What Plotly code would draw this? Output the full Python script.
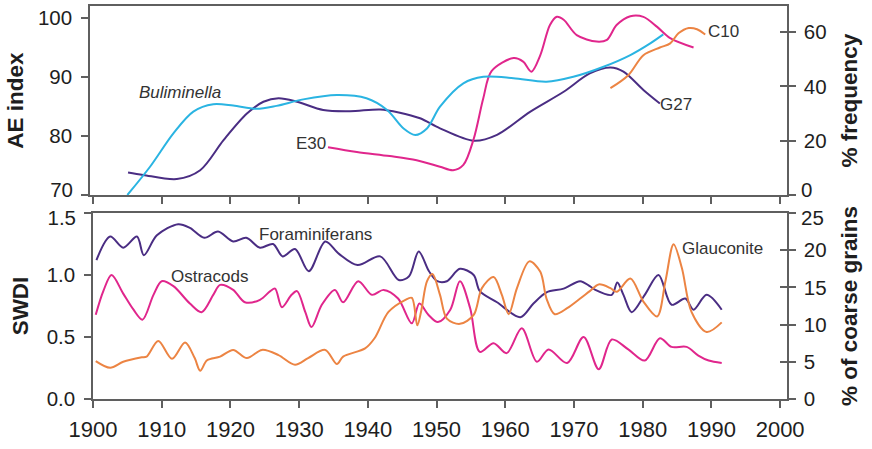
import plotly.graph_objects as go

# ---------------- data ----------------
# Top panel: AE index (left axis) for cores G27, E30, C10; Buliminella % frequency (right axis)
g27_year = [1905.1, 1907.3, 1912.2, 1915.6, 1919.0, 1922.4, 1924.8, 1927.0, 1929.7, 1933.5,
            1937.4, 1941.8, 1944.5, 1947.6, 1950.5, 1955.4, 1958.8, 1963.6, 1968.5, 1972.3,
            1975.3, 1977.2, 1980.1, 1982.5]
g27_ae = [73.8, 73.4, 72.7, 74.2, 79.3, 83.8, 85.8, 86.4, 85.8, 84.4,
          84.2, 84.5, 84.0, 83.0, 81.3, 79.2, 80.2, 84.1, 87.5, 90.6,
          91.6, 90.9, 87.8, 85.5]

e30_year = [1934.2, 1938.4, 1943.2, 1947.1, 1950.5, 1952.4, 1953.9, 1955.4, 1956.8, 1958.0,
            1961.2, 1962.6, 1963.8, 1965.1, 1966.5, 1967.5, 1968.5, 1970.4, 1973.3, 1974.8,
            1976.2, 1978.2, 1980.1, 1982.1, 1984.0, 1987.4]
e30_ae = [78.1, 77.3, 76.6, 75.9, 74.8, 74.2, 75.1, 79.5, 86.4, 91.0,
          93.2, 92.6, 90.9, 93.7, 98.8, 100.2, 99.7, 97.1, 96.0, 96.3,
          98.8, 100.3, 100.2, 98.5, 96.6, 95.0]

c10_year = [1975.3, 1977.9, 1980.1, 1982.5, 1984.0, 1985.2, 1986.7, 1987.9, 1989.1]
c10_ae = [88.1, 90.3, 93.7, 95.0, 95.7, 97.4, 98.3, 98.1, 97.2]

bul_year = [1905.0, 1908.3, 1911.7, 1914.6, 1917.5, 1920.4, 1923.8, 1926.7, 1930.6, 1935.5,
            1939.8, 1942.8, 1945.2, 1946.9, 1948.6, 1950.5, 1953.9, 1956.8, 1961.2, 1966.0,
            1969.9, 1974.3, 1978.2, 1981.1, 1983.0]
bul_pct = [0.0, 10.4, 22.7, 30.7, 33.4, 32.9, 31.7, 32.8, 35.2, 36.8,
           35.6, 31.3, 24.5, 22.1, 24.5, 32.5, 41.1, 43.5, 43.0, 41.7,
           43.5, 47.2, 51.5, 55.8, 59.1]

# Bottom panel: SWDI (left axis) for foraminiferans and ostracods; glauconite % of coarse grains (right axis)
foram_year = [1900.5, 1902.5, 1904.4, 1906.4, 1907.4, 1909.3, 1912.4, 1914.1, 1916.2, 1918.2,
              1920.4, 1922.3, 1924.3, 1926.2, 1927.6, 1929.4, 1931.4, 1933.8, 1935.8, 1938.5,
              1941.8, 1944.5, 1946.0, 1947.4, 1948.9, 1950.1, 1951.5, 1953.4, 1955.4, 1956.3,
              1958.8, 1962.2, 1964.1, 1966.0, 1968.5, 1970.9, 1972.3, 1973.1, 1975.5, 1976.3,
              1977.2, 1978.4, 1980.3, 1982.3, 1984.2, 1986.2, 1987.4, 1989.3, 1991.5]
foram_swdi = [1.12, 1.31, 1.22, 1.31, 1.16, 1.32, 1.41, 1.38, 1.30, 1.35,
              1.27, 1.30, 1.22, 1.25, 1.15, 1.21, 1.03, 1.27, 1.17, 1.08,
              1.15, 0.96, 0.99, 1.19, 1.03, 0.95, 0.95, 1.05, 1.00, 0.87,
              0.78, 0.66, 0.77, 0.86, 0.89, 0.95, 0.91, 0.88, 0.84, 0.94,
              0.84, 0.70, 0.84, 1.00, 0.76, 0.81, 0.72, 0.84, 0.72]

ostra_year = [1900.4, 1901.5, 1902.7, 1904.4, 1905.9, 1907.2, 1908.8, 1910.0, 1911.7, 1914.1,
              1915.8, 1917.5, 1918.5, 1920.4, 1922.1, 1924.3, 1925.8, 1926.5, 1927.5, 1928.9,
              1929.7, 1930.9, 1931.8, 1933.3, 1935.2, 1936.4, 1938.6, 1940.6, 1942.3, 1944.4,
              1946.4, 1947.5, 1948.8, 1950.2, 1952.0, 1953.4, 1954.9, 1956.3, 1958.3, 1960.2,
              1962.4, 1964.6, 1966.3, 1969.0, 1971.4, 1973.6, 1975.5, 1977.9, 1980.3, 1982.5,
              1984.2, 1986.4, 1988.1, 1989.6, 1991.5]
ostra_swdi = [0.68, 0.87, 1.00, 0.85, 0.72, 0.64, 0.84, 0.95, 0.91, 0.77,
              0.70, 0.84, 0.92, 0.88, 0.78, 0.80, 0.87, 0.89, 0.74, 0.84,
              0.87, 0.70, 0.58, 0.76, 0.88, 0.78, 0.95, 0.84, 0.88, 0.81,
              0.61, 0.77, 0.68, 0.62, 0.72, 0.95, 0.73, 0.38, 0.45, 0.37,
              0.57, 0.30, 0.40, 0.29, 0.50, 0.24, 0.48, 0.40, 0.31, 0.49,
              0.42, 0.42, 0.35, 0.31, 0.29]

glauc_year = [1900.4, 1902.5, 1904.4, 1907.1, 1907.8, 1909.5, 1911.5, 1913.4, 1914.8, 1915.6,
              1916.6, 1918.5, 1920.4, 1922.4, 1924.6, 1927.0, 1929.4, 1931.3, 1933.8, 1935.5,
              1936.4, 1939.6, 1941.0, 1943.0, 1945.4, 1946.4, 1947.2, 1947.8, 1948.6, 1949.4,
              1950.5, 1951.5, 1953.4, 1955.4, 1956.6, 1958.3, 1959.5, 1960.5, 1961.7, 1963.5,
              1965.1, 1966.0, 1967.2, 1969.0, 1970.9, 1972.3, 1973.6, 1975.3, 1976.2, 1978.2,
              1980.1, 1982.1, 1983.3, 1984.5, 1985.7, 1987.1, 1989.3, 1991.5]
glauc_pct = [5.1, 4.2, 5.0, 5.6, 5.7, 7.8, 5.4, 7.6, 5.5, 3.8,
             5.2, 5.7, 6.6, 5.5, 6.6, 5.9, 4.6, 5.5, 6.6, 4.7,
             5.7, 6.8, 8.2, 11.7, 13.3, 13.6, 9.9, 12.0, 15.8, 16.8,
             14.0, 10.8, 10.1, 11.3, 14.9, 16.4, 14.0, 11.4, 14.9, 18.5,
             17.1, 13.5, 11.4, 12.2, 13.5, 14.5, 15.4, 14.9, 14.4, 16.2,
             13.1, 11.1, 15.8, 20.8, 17.6, 11.7, 9.0, 10.3]

x_ticks = list(range(1900, 2001, 10))
ae_ticks = [70, 80, 90, 100]
freq_ticks = [0, 20, 40, 60]
swdi_ticks = [0.0, 0.5, 1.0, 1.5]
coarse_ticks = [0, 5, 10, 15, 20, 25]

# ---------------- style ----------------
FONT = "Liberation Sans, Arial, sans-serif"
C_CYAN = "#2ab4e2"
C_PURPLE = "#4a2d83"
C_MAGENTA = "#e0268c"
C_ORANGE = "#ec8443"
FRAME = "#5f5f5f"
TXT = "#1e1e1e"
LBL = "#333333"
LW = 2.0

fig = go.Figure()

def line(x, y, color, xa, ya, name):
    fig.add_trace(go.Scatter(x=x, y=y, mode="lines", name=name, showlegend=False,
                             line=dict(color=color, width=LW, shape="spline", smoothing=0.9),
                             xaxis=xa, yaxis=ya, hoverinfo="x+y+name"))

# top panel
line(bul_year, bul_pct, C_CYAN, "x2", "y4", "Buliminella")
line(g27_year, g27_ae, C_PURPLE, "x2", "y3", "G27")
line(e30_year, e30_ae, C_MAGENTA, "x2", "y3", "E30")
line(c10_year, c10_ae, C_ORANGE, "x2", "y3", "C10")
# bottom panel
line(glauc_year, glauc_pct, C_ORANGE, "x", "y2", "Glauconite")
line(ostra_year, ostra_swdi, C_MAGENTA, "x", "y", "Ostracods")
line(foram_year, foram_swdi, C_PURPLE, "x", "y", "Foraminiferans")
# empty traces so the helper axes (inner ticks, edge labels) are drawn
for xa, ya in [("x2", "y5"), ("x", "y6"), ("x2", "y7"), ("x2", "y8"), ("x", "y9"), ("x", "y10")]:
    fig.add_trace(go.Scatter(x=[], y=[], xaxis=xa, yaxis=ya, showlegend=False))

W, H = 872, 449
ML, MR, MT, MB = 90, 85, 6, 50
plot_w = W - ML - MR
plot_h = H - MT - MB
top_dom = [(399 - 195) / plot_h, 1.0]
bot_dom = [0.0, (399 - 213) / plot_h]

AE_RANGE = [70, 70 + 189 / 5.9]
FREQ_RANGE = [0, 189 / 2.717]
SWDI_RANGE = [0, 1.5]
COARSE_RANGE = [0, 25]

xtickfont = dict(family=FONT, size=22, color=TXT)
ytickfont = dict(family=FONT, size=20.5, color=TXT)
titlefont = dict(family=FONT, size=22.5, color=TXT, weight="bold")

common_axis = dict(showline=True, linecolor=FRAME, linewidth=1.5, showgrid=False, zeroline=False,
                   automargin=False,
                   ticks="outside", ticklen=7, tickwidth=1.5, tickcolor=FRAME)
helper = dict(showline=False, showgrid=False, zeroline=False, automargin=False)

def lbl(vals, fmt, skip):
    return [("" if v == skip else fmt.format(v)) for v in vals]

fig.update_layout(
    template="plotly_white",
    width=W, height=H,
    margin=dict(l=ML, r=MR, t=MT, b=MB, autoexpand=False),
    paper_bgcolor="white", plot_bgcolor="white",
    font=dict(family=FONT, color=TXT),
    xaxis=dict(domain=[3 / plot_w, 1.0], range=[1900, 2001.0], anchor="y", tickvals=x_ticks,
               mirror=True, ticklabelstandoff=3, tickfont=xtickfont, **common_axis),
    xaxis2=dict(domain=[0.0, 1.0], range=[1900 - 3 / 6.87, 2001.0], anchor="y3", tickvals=x_ticks,
                mirror=True, showticklabels=False, **common_axis),
    # bottom-left SWDI
    yaxis=dict(domain=bot_dom, range=SWDI_RANGE, anchor="x", tickvals=swdi_ticks,
               ticktext=lbl(swdi_ticks, "{:.1f}", 1.5),
               title=dict(text="SWDI", font=titlefont, standoff=12), ticklabelstandoff=5,
               tickfont=ytickfont, **common_axis),
    # bottom-right % coarse grains
    yaxis2=dict(domain=bot_dom, range=COARSE_RANGE, anchor="x", overlaying="y", side="right",
                tickvals=coarse_ticks, ticktext=lbl(coarse_ticks, "{}", 25), tickfont=ytickfont,
                title=dict(text="% of coarse grains", font=titlefont, standoff=16), ticklabelstandoff=4,
                **common_axis),
    # top-left AE index
    yaxis3=dict(domain=top_dom, range=AE_RANGE, anchor="x2", tickvals=ae_ticks,
                ticktext=lbl(ae_ticks, "{}", 70),
                title=dict(text="AE index", font=titlefont, standoff=8), ticklabelstandoff=5,
                tickfont=ytickfont, **common_axis),
    # top-right % frequency
    yaxis4=dict(domain=top_dom, range=FREQ_RANGE, anchor="x2", overlaying="y3", side="right",
                tickvals=freq_ticks, ticktext=lbl(freq_ticks, "{}", 0), tickfont=ytickfont,
                title=dict(text="% frequency", font=titlefont, standoff=16), ticklabelstandoff=4,
                **common_axis),
    # inner halves of the crossing right-hand ticks
    yaxis5=dict(domain=top_dom, range=FREQ_RANGE, anchor="x2", overlaying="y3", side="right",
                tickvals=freq_ticks, showticklabels=False, ticks="inside", ticklen=7, tickwidth=1.5,
                tickcolor=FRAME, **helper),
    yaxis6=dict(domain=bot_dom, range=COARSE_RANGE, anchor="x", overlaying="y", side="right",
                tickvals=coarse_ticks, showticklabels=False, ticks="inside", ticklen=7, tickwidth=1.5,
                tickcolor=FRAME, **helper),
    # edge labels where the two panels meet, nudged apart so they do not collide
    yaxis7=dict(domain=top_dom, range=AE_RANGE, anchor="x2", overlaying="y3", side="left",
                tickvals=[70], ticktext=["70"], ticks="", ticklabelstandoff=16,
                ticklabelshift=-5, tickfont=ytickfont, **helper),
    yaxis8=dict(domain=top_dom, range=FREQ_RANGE, anchor="x2", overlaying="y3", side="right",
                tickvals=[0], ticktext=["0"], ticks="", ticklabelstandoff=13,
                ticklabelshift=-5, tickfont=ytickfont, **helper),
    yaxis9=dict(domain=bot_dom, range=SWDI_RANGE, anchor="x", overlaying="y", side="left",
                tickvals=[1.5], ticktext=["1.5"], ticks="", ticklabelstandoff=16,
                ticklabelshift=5, tickfont=ytickfont, **helper),
    yaxis10=dict(domain=bot_dom, range=COARSE_RANGE, anchor="x", overlaying="y", side="right",
                 tickvals=[25], ticktext=["25"], ticks="", ticklabelstandoff=13,
                 ticklabelshift=5, tickfont=ytickfont, **helper),
)

afont = dict(family=FONT, size=17, color=LBL)
annos = [
    dict(x=1912.7, y=87.3, xref="x2", yref="y3", text="<i>Buliminella</i>", xanchor="center"),
    dict(x=1934.0, y=78.8, xref="x2", yref="y3", text="E30", xanchor="right"),
    dict(x=1982.3, y=85.3, xref="x2", yref="y3", text="G27", xanchor="left"),
    dict(x=1989.3, y=97.7, xref="x2", yref="y3", text="C10", xanchor="left"),
    dict(x=1932.4, y=1.33, xref="x", yref="y", text="Foraminiferans", xanchor="center"),
    dict(x=1916.9, y=0.99, xref="x", yref="y", text="Ostracods", xanchor="center"),
    dict(x=1985.6, y=1.215, xref="x", yref="y", text="Glauconite", xanchor="left"),
]
for a in annos:
    fig.add_annotation(showarrow=False, font=afont, yanchor="middle", borderpad=0, **a)

fig.write_html("out.html")
